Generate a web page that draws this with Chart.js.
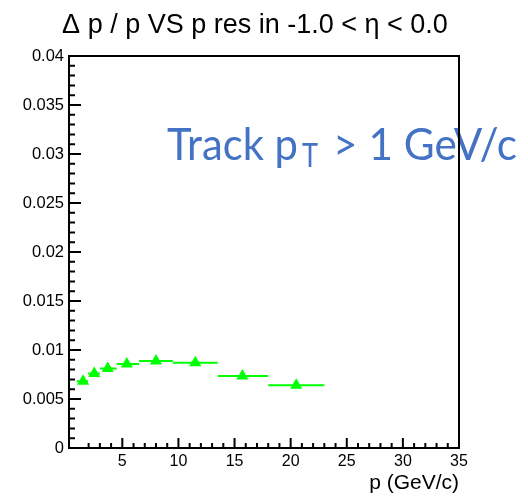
<!DOCTYPE html>
<html>
<head>
<meta charset="utf-8">
<script src="https://cdn.jsdelivr.net/npm/chart.js@4"></script>
<style>
  body { margin: 0; background: #fff; }
  #wrap { width: 528px; height: 498px; position: relative; }
</style>
</head>
<body>
<div id="wrap"><canvas id="chart"></canvas></div>
<script>
// momentum bins (GeV/c) and resolution values
const binLo = [0.95, 1.95, 3.0, 4.5, 6.5, 9.5, 13.5, 18.0];
const binHi = [1.95, 3.0, 4.5, 6.5, 9.5, 13.5, 18.0, 23.0];
const pCenters = [1.5, 2.5, 3.7, 5.4, 8.0, 11.5, 15.7, 20.5];
const resValues = [0.0068, 0.0076, 0.0081, 0.00857, 0.00888, 0.0087, 0.00735, 0.0064];

const xTicks = [5, 10, 15, 20, 25, 30, 35];
const yTicks = [0, 0.005, 0.01, 0.015, 0.02, 0.025, 0.03, 0.035, 0.04];

const titleText = "\u0394 p / p VS p res in -1.0 < \u03b7 < 0.0";
const FONT = "'Liberation Sans', Arial, sans-serif";
const green = "#00ff00";

// horizontal error bars as broken line segments
const barData = [];
binLo.forEach((lo, i) => {
  barData.push({ x: lo, y: resValues[i] });
  barData.push({ x: binHi[i], y: resValues[i] });
  barData.push({ x: binHi[i], y: null });
});

const isMult = (v, step) => Math.abs(v / step - Math.round(v / step)) < 1e-6;

const frameAndLabel = {
  id: "frameAndLabel",
  afterDraw(chart) {
    const { ctx, chartArea: a, scales } = chart;
    ctx.save();

    // title
    ctx.fillStyle = "#000";
    ctx.font = `27px ${FONT}`;
    ctx.textAlign = "center";
    ctx.textBaseline = "alphabetic";
    ctx.fillText(titleText, 255, 33);

    // annotation text
    ctx.textAlign = "left";
    ctx.fillStyle = "#4472c4";
    const fitText = (txt, size, x, y, w) => {
      ctx.font = `${size}px Lato, 'Open Sans', sans-serif`;
      const nat = ctx.measureText(txt).width;
      ctx.save();
      ctx.translate(x, y);
      ctx.scale(w / nat, 1);
      ctx.fillText(txt, 0, 0);
      ctx.restore();
    };
    fitText("Track p", 44, 167, 160, 131);
    fitText("T", 33, 302, 167, 16);
    fitText("> 1 GeV/c", 44, 333, 160, 184);

    // frame
    ctx.strokeStyle = "#000";
    ctx.lineWidth = 2;
    ctx.strokeRect(a.left, a.top, a.right - a.left, a.bottom - a.top);

    // inward tick marks
    ctx.beginPath();
    scales.y.ticks.forEach((t) => {
      const py = scales.y.getPixelForValue(t.value);
      const len = isMult(t.value, 0.005) ? 12 : 6;
      ctx.moveTo(a.left, py);
      ctx.lineTo(a.left + len, py);
    });
    scales.x.ticks.forEach((t) => {
      if (!isMult(t.value, 1)) return;
      const px = scales.x.getPixelForValue(t.value);
      const len = isMult(t.value, 5) ? 10 : 5;
      ctx.moveTo(px, a.bottom);
      ctx.lineTo(px, a.bottom - len);
    });
    ctx.stroke();
    ctx.restore();
  },
};

new Chart(document.getElementById("chart"), {
  type: "scatter",
  data: {
    datasets: [
      {
        label: "points",
        data: pCenters.map((p, i) => ({ x: p, y: resValues[i] })),
        pointStyle: "triangle",
        pointRadius: 7,
        backgroundColor: green,
        borderColor: green,
        borderWidth: 0,
        order: 0,
      },
      {
        type: "line",
        label: "bins",
        data: barData,
        borderColor: green,
        borderWidth: 2,
        pointRadius: 0,
        spanGaps: false,
        order: 1,
      },
    ],
  },
  options: {
    responsive: true,
    maintainAspectRatio: false,
    animation: false,
    layout: { padding: { left: 0, right: 69, top: 56, bottom: 0 } },
    plugins: {
      legend: { display: false },
      tooltip: { enabled: false },
      title: { display: false },
    },
    scales: {
      x: {
        type: "linear",
        min: 0.25,
        max: 35,
        grid: { display: false, drawTicks: false },
        border: { display: false },
        afterFit: (s) => { s.height = 50; },
        ticks: {
          stepSize: 1,
          autoSkip: false,
          maxRotation: 0,
          padding: 4,
          color: "#000",
          font: { family: FONT, size: 16 },
          callback: (v) => (xTicks.includes(v) ? String(v) : ""),
        },
        title: {
          display: true,
          text: "p (GeV/c)",
          align: "end",
          color: "#000",
          font: { family: FONT, size: 21 },
          padding: { top: 0, bottom: 2 },
        },
      },
      y: {
        min: 0,
        max: 0.04,
        grid: { display: false, drawTicks: false },
        border: { display: false },
        afterFit: (s) => { s.width = 69; },
        ticks: {
          stepSize: 0.001,
          autoSkip: false,
          padding: 5,
          color: "#000",
          font: { family: FONT, size: 16.5 },
          callback: (v) => {
            const hit = yTicks.find((t) => Math.abs(t - v) < 1e-9);
            return hit === undefined ? "" : String(hit);
          },
        },
      },
    },
  },
  plugins: [frameAndLabel],
});
</script>
</body>
</html>
